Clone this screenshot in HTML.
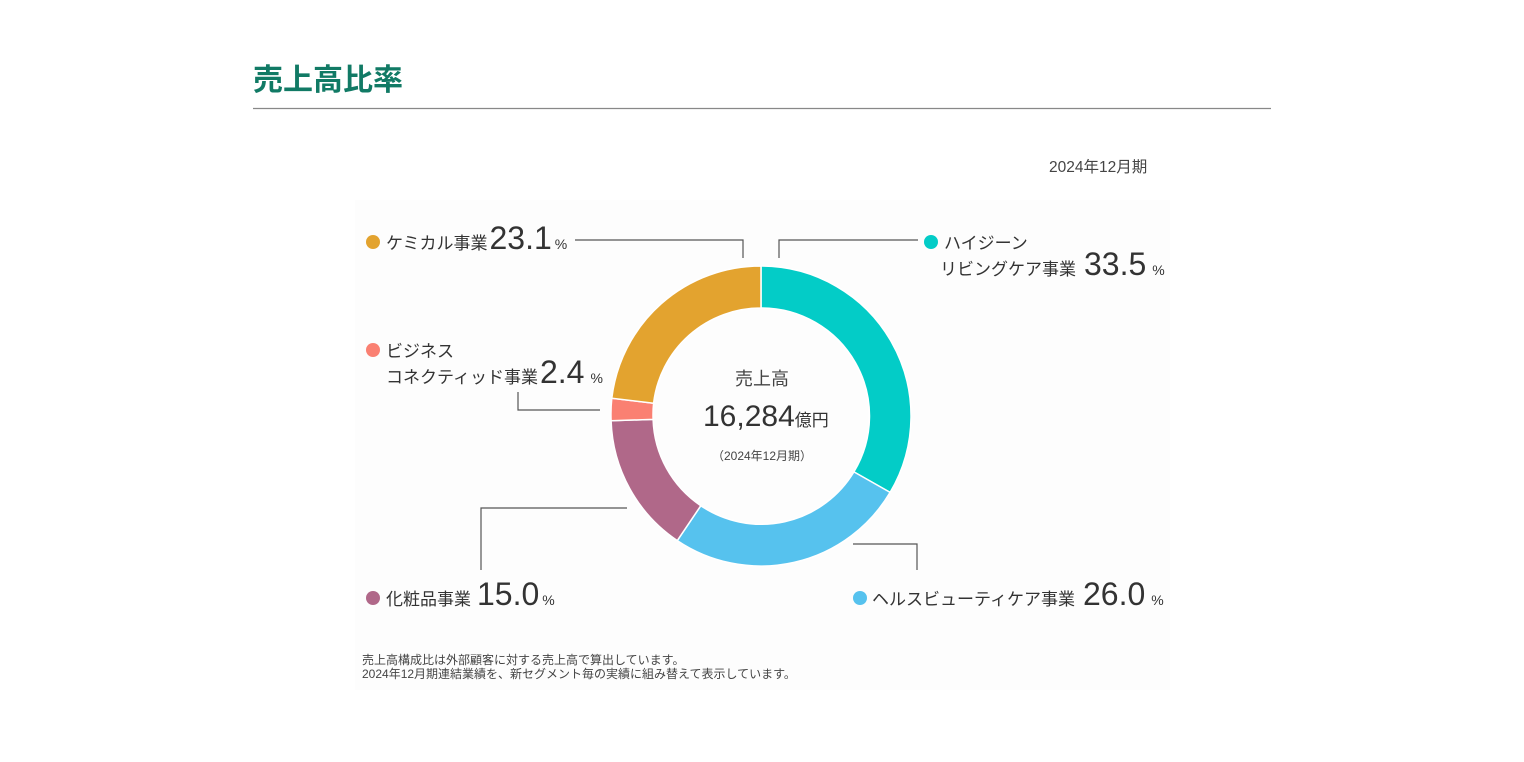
<!DOCTYPE html>
<html><head><meta charset="utf-8"><style>
body{margin:0;background:#fff;width:1524px;height:757px;overflow:hidden;font-family:"Liberation Sans","Noto Sans CJK JP",sans-serif}
</style></head><body>
<svg width="1524" height="757" viewBox="0 0 1524 757" xmlns="http://www.w3.org/2000/svg" style="font-family:'Liberation Sans','Noto Sans CJK JP',sans-serif">
<rect x="355" y="200" width="815" height="490" fill="#fdfdfd"/>
<text x="253" y="90" font-size="30" font-weight="bold" fill="#117a65">売上高比率</text>
<line x1="253" y1="108.5" x2="1271" y2="108.5" stroke="#888" stroke-width="1.2"/>
<text x="1049" y="172" font-size="15.5" fill="#444">2024年12月期</text>
<g stroke="#fff" stroke-width="1.5">
<path d="M761 266 A150 150 0 0 1 890.1 492.4 L853.9 471.9 A108 108 0 0 0 761 308 Z" fill="#03ccc7"/>
<path d="M890.1 492.4 A150 150 0 0 1 677.3 540.6 L700.8 505.7 A108 108 0 0 0 853.9 471.9 Z" fill="#56c2ee"/>
<path d="M677.3 540.6 A150 150 0 0 1 611.1 420.7 L653.1 419.4 A108 108 0 0 0 700.8 505.7 Z" fill="#b06889"/>
<path d="M611.1 420.7 A150 150 0 0 1 611.8 398.2 L653.6 403.2 A108 108 0 0 0 653.1 419.4 Z" fill="#fa8072"/>
<path d="M611.8 398.2 A150 150 0 0 1 761 266 L761 308 A108 108 0 0 0 653.6 403.2 Z" fill="#e3a32f"/>
</g>
<text x="762" y="385" font-size="18" fill="#444" text-anchor="middle">売上高</text>
<text x="703" y="426" font-size="30" fill="#333">16,284<tspan font-size="17">億円</tspan></text>
<text x="762" y="460" font-size="12" fill="#444" text-anchor="middle">（2024年12月期）</text>
<g fill="none" stroke="#555" stroke-width="1.2">
<polyline points="575,240 743,240 743,258"/>
<polyline points="779,258 779,240 918,240"/>
<polyline points="518,392 518,410 600,410"/>
<polyline points="481,570 481,508 627,508"/>
<polyline points="853,544 917,544 917,570"/>
</g>
<g font-size="17" fill="#333">
<circle cx="373" cy="242" r="7" fill="#e3a32f"/>
<text x="386" y="249">ケミカル事業<tspan font-size="32" dx="2">23.1</tspan><tspan font-size="14" dx="3">%</tspan></text>
<circle cx="931" cy="242" r="7" fill="#03ccc7"/>
<text x="944" y="249">ハイジーン</text>
<text x="940" y="275">リビングケア事業<tspan font-size="32" dx="8">33.5</tspan><tspan font-size="14" dx="6">%</tspan></text>
<circle cx="373" cy="350" r="7" fill="#fa8072"/>
<text x="386" y="357">ビジネス</text>
<text x="386" y="383">コネクティッド事業<tspan font-size="32" dx="2">2.4</tspan><tspan font-size="14" dx="6">%</tspan></text>
<circle cx="373" cy="598" r="7" fill="#b06889"/>
<text x="386" y="605">化粧品事業<tspan font-size="32" dx="6">15.0</tspan><tspan font-size="14" dx="3">%</tspan></text>
<circle cx="860" cy="598" r="7" fill="#56c2ee"/>
<text x="872" y="605">ヘルスビューティケア事業<tspan font-size="32" dx="8">26.0</tspan><tspan font-size="14" dx="6">%</tspan></text>
</g>
<text x="362" y="664" font-size="12" fill="#444">売上高構成比は外部顧客に対する売上高で算出しています。</text>
<text x="362" y="678" font-size="12" fill="#444">2024年12月期連結業績を、新セグメント毎の実績に組み替えて表示しています。</text>
</svg>
</body></html>
